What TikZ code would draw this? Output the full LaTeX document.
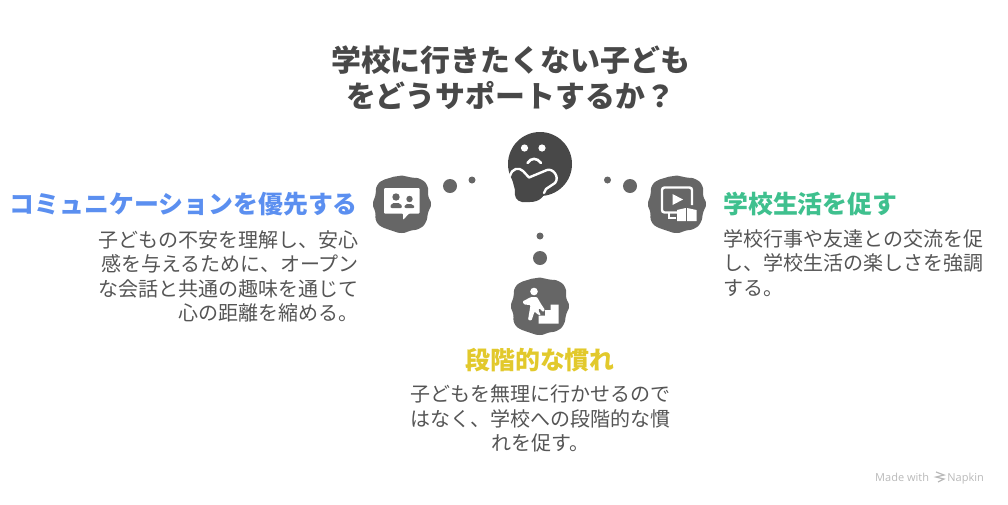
\documentclass[tikz,border=0pt]{standalone}
\usepackage{fontspec}
\setmainfont{Noto Sans CJK JP}
\newfontfamily\markfont{Open Sans}
\usetikzlibrary{positioning}
\definecolor{iconGray}{HTML}{666666}
\definecolor{faceGray}{HTML}{484848}
\definecolor{titleGray}{HTML}{484848}
\definecolor{bodyGray}{HTML}{555555}
\definecolor{commBlue}{HTML}{5B8FF0}
\definecolor{lifeGreen}{HTML}{3FC08E}
\definecolor{stepYellow}{HTML}{E2C92C}
\tikzset{
	Title/.style={inner sep=0,align=center,text=titleGray,font=\fontsize{29.9}{36}\selectfont\bfseries},
	Heading/.style={inner sep=0,font=\fontsize{24.9}{30}\selectfont\bfseries},
	Body/.style={inner sep=0,text=bodyGray,font=\fontsize{20}{24.5}\selectfont},
	bigdot/.style={circle,fill=iconGray,inner sep=0,minimum size=14pt},
	smalldot/.style={circle,fill=iconGray,inner sep=0,minimum size=7pt},
	blob/.pic={
		\fill [iconGray] plot [smooth cycle,tension=0.9] coordinates {
			(0:29) (18:27.5) (38:30) (55:30) (72:28) (90:29) (108:28.5) (127:30) (145:31) (163:28)
			(180:29) (198:28) (217:31) (235:30) (253:28.5) (270:28.5) (288:28) (307:31) (325:31) (343:27.5)};
	}
}
\begin{document}
\begin{tikzpicture}[x=1pt,y=-1pt]
	\useasboundingbox (0,0) rectangle (1008,504);
	\node [Title] (title) at (510.5,78) {学校に行きたくない子ども\\をどうサポートするか？};
	% thinking face
	\fill [faceGray] (540,164) circle [radius=32];
	\fill [white] (524.5,148) circle [radius=3.6] (542,148) circle [radius=3.6];
	\draw [white,line width=2.6,line cap=round] (527.5,163) .. controls (531,157.5) and (537,157.5) .. (541,163);
	\fill [faceGray] (511,175) .. controls (513,169) and (519,168) .. (522,172) -- (529,179) -- (548,171)
		.. controls (553,170) and (558,178) .. (553,183) -- (546,188) .. controls (545,197) and (539,202) .. (530,202)
		-- (522,202) .. controls (516,201) and (514,196) .. (515,190) -- cycle;
	\draw [white,line width=2.4,line cap=round,line join=round] (510,176) .. controls (512,168) and (519,167) .. (523,171)
		-- (529,177.5) -- (547,170) .. controls (553,168) and (560,177) .. (555,183) -- (546,189) -- (544,193);
	% dots
	\node [bigdot] (dot_l) at (450,186) {};
	\node [smalldot] (tip_l) at (472,180) {};
	\node [bigdot] (dot_r) at (630,186) {};
	\node [smalldot] (tip_r) at (607.5,180) {};
	\node [bigdot] (dot_b) at (540,258) {};
	\node [smalldot] (tip_b) at (540,236) {};
	% left icon
	\pic at (402,204) {blob};
	\fill [white,rounded corners=1pt] (384,188) -- (419.5,188) -- (419.5,213.5) -- (409,213.5) -- (403,220) -- (403,213.5) -- (384,213.5) -- cycle;
	\fill [iconGray] (396,197) circle [radius=3.7] (409.5,199) circle [radius=3.2];
	\fill [iconGray,rounded corners=2pt] (390,208) -- (391.5,203) -- (400.5,203) -- (402.5,208) -- cycle;
	\fill [iconGray,rounded corners=2pt] (404,208) -- (405,204) -- (413,204) -- (415,208) -- cycle;
	% right icon
	\pic at (677,204) {blob};
	\draw [white,line width=2.4,rounded corners=2.5pt] (680,212.5) -- (662,212.5) -- (662,187.5) -- (692,187.5) -- (692,205);
	\fill [white] (672.5,194) -- (683,199.5) -- (672.5,205) -- cycle;
	\draw [white,line width=2] (669,213) -- (669,218) -- (676,218);
	\fill [white] (677,210) -- (685.8,208) -- (685.8,221) -- (677,221) -- cycle;
	\fill [white] (687,208) -- (696.5,210) -- (696.5,221) -- (687,221) -- cycle;
	% bottom icon
	\pic at (540,306) {blob};
	\fill [white] (534,291.5) circle [radius=3.8];
	\fill [white,rounded corners=1pt] (522.5,301.5) -- (531,297) -- (537,297) -- (541,304) -- (545,310) -- (543,312) -- (539,308)
		-- (538.5,311) -- (541,315) -- (538.5,315) -- (534.5,311.5) -- (531.5,320.5) -- (528,320) -- (530.5,305) -- (524,304.5) -- cycle;
	\fill [white] (538.5,323.5) -- (538.5,315.5) -- (545,315.5) -- (545,310) -- (550.5,310) -- (550.5,304.5) -- (558.5,304.5) -- (558.5,323.5) -- cycle;
	% headings
	\node [Heading,text=commBlue,anchor=east] (head_comm) at (358,204) {コミュニケーションを優先する};
	\node [Heading,text=lifeGreen,anchor=west] (head_life) at (723,204) {学校生活を促す};
	\node [Heading,text=stepYellow] (head_step) at (540,360) {段階的な慣れ};
	% bodies
	\node [Body,align=right,anchor=north east] (body_comm) at (359,230) {子どもの不安を理解し、安心\\感を与えるために、オープン\\な会話と共通の趣味を通じて\\心の距離を縮める。};
	\node [Body,align=left,anchor=north west] (body_life) at (723,229) {学校行事や友達との交流を促\\し、学校生活の楽しさを強調\\する。};
	\node [Body,align=center,anchor=north] (body_step) at (540,384.5) {子どもを無理に行かせるので\\はなく、学校への段階的な慣\\れを促す。};
	% watermark
	\node [inner sep=0,anchor=base west,text=gray!55,font=\fontsize{11}{12}\markfont] (mark_made) at (875,481) {Made with};
	\node [inner sep=0,anchor=base east,text=gray!55,font=\fontsize{11}{12}\markfont] (mark_napkin) at (984,481) {Napkin};
	\draw [gray!55,line width=1.2] (936,472) -- (944,475) -- (936,477) -- (944,479) -- (938,482);
\end{tikzpicture}
\end{document}
